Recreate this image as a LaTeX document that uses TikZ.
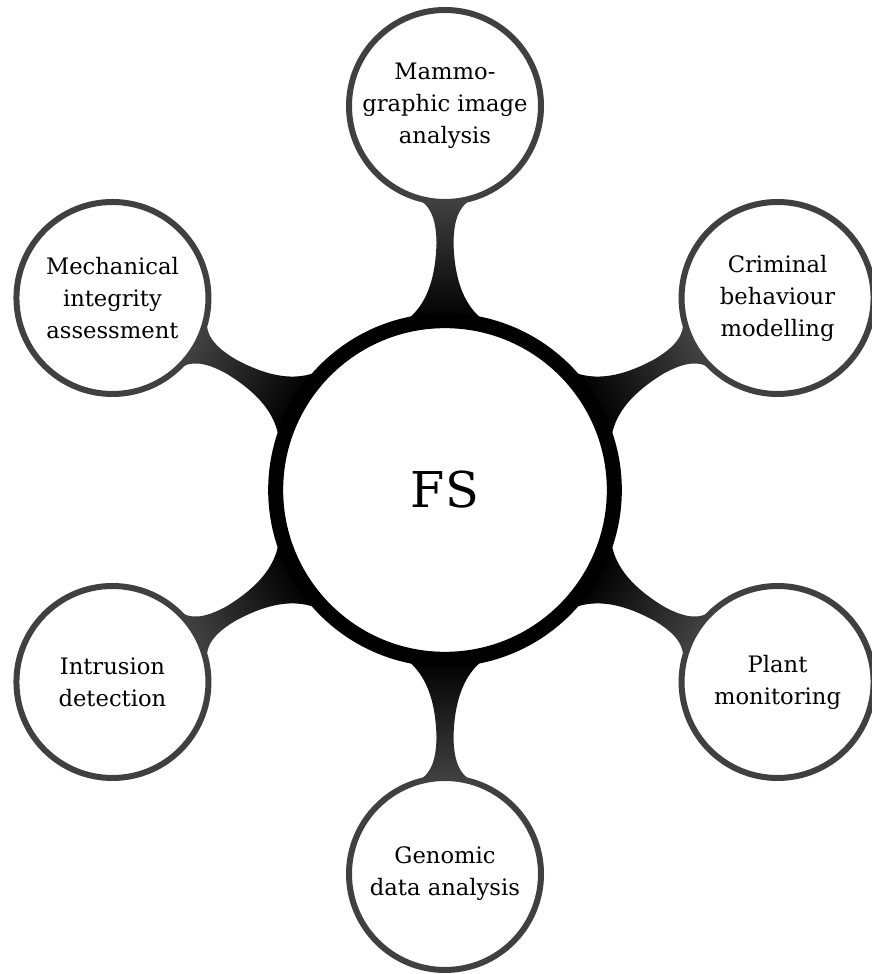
\documentclass[tikz,border=0pt]{standalone}
\usepackage{fontspec}
\setmainfont{DejaVu Serif}
\usetikzlibrary{mindmap,backgrounds}
\begin{document}
\begin{tikzpicture}[x=0.75pt,y=0.75pt,
  hub/.style={circle, draw=black, line width=11.25pt, fill=white,
    minimum size=254pt, inner sep=0pt, outer sep=0pt,
    font=\fontsize{37}{44}\selectfont},
  leaf/.style={circle, draw=black!75, line width=4.5pt, fill=white,
    minimum size=144pt, inner sep=0pt, outer sep=0pt, align=center,
    font=\fontsize{17}{24}\selectfont},
  bar/.style={circle connection bar switch color=from (black) to (black!75)}]
  \useasboundingbox (0,0) rectangle (871,974);
  % central concept and its six branches
  \node[hub] (fs) at (445,484) {FS};
  \node[leaf] (mam) at ([shift={(90:384)}]fs) {Mammo-\\graphic image\\analysis};
  \node[leaf] (cri) at ([shift={(30:384)}]fs) {Criminal\\behaviour\\modelling};
  \node[leaf] (pla) at ([shift={(-30:384)}]fs) {Plant\\monitoring};
  \node[leaf] (gen) at ([shift={(-90:384)}]fs) {Genomic\\data analysis};
  \node[leaf] (int) at ([shift={(210:384)}]fs) {Intrusion\\detection};
  \node[leaf] (mec) at ([shift={(150:384)}]fs) {Mechanical\\integrity\\assessment};
  % connection bars behind the circles
  \begin{scope}[on background layer]
    \foreach \c in {mam,cri,pla,gen,int,mec}
      \path (fs) to[bar] (\c);
  \end{scope}
\end{tikzpicture}
\end{document}
